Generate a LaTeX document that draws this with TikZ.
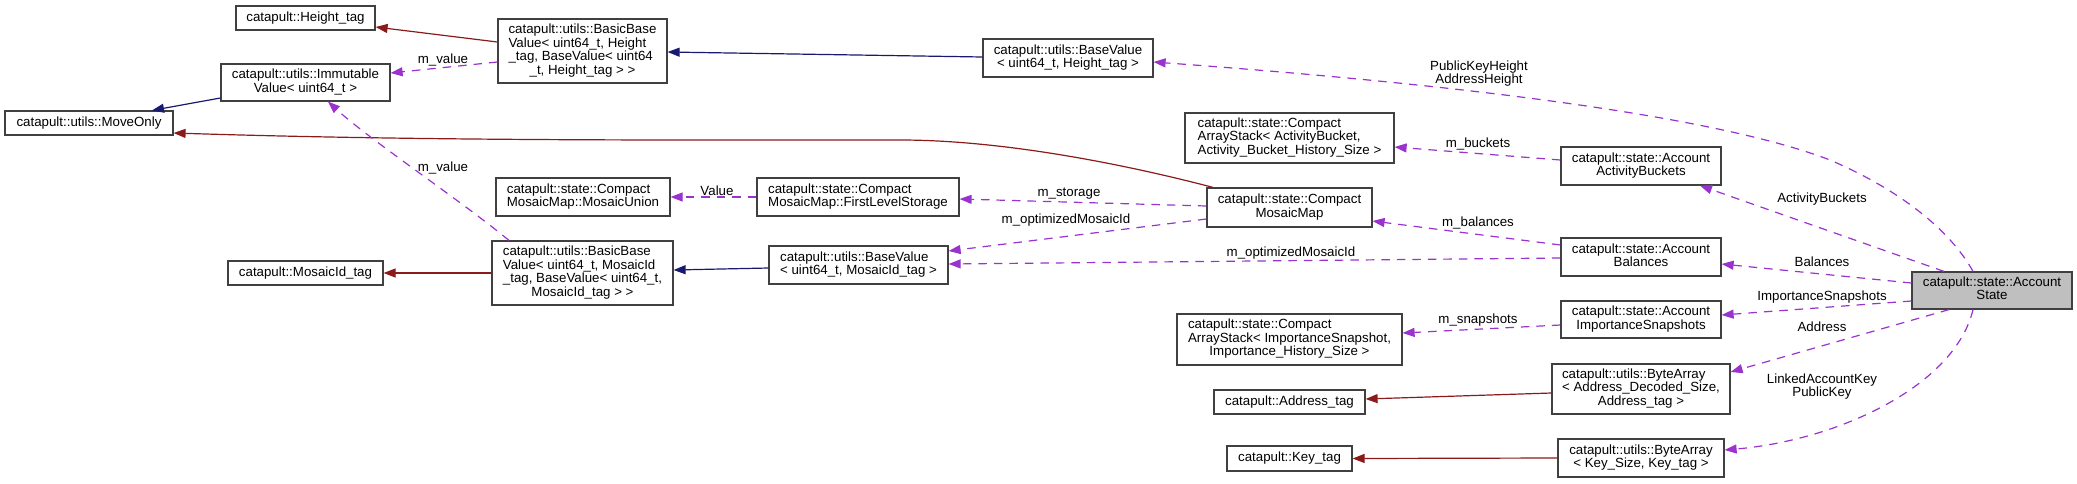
\documentclass[tikz,border=0pt]{standalone}
\usepackage{fontspec}
\setmainfont{Liberation Sans}
\usetikzlibrary{arrows.meta}
\definecolor{navy}{HTML}{191970}
\definecolor{dred}{HTML}{8B1A1A}
\definecolor{purp}{HTML}{9A32CD}
\newcommand{\boxlines}[1]{\begin{tabular}{@{}l@{}}#1\end{tabular}}
\newcommand{\lastline}[1]{\multicolumn{1}{@{}c@{}}{#1}}
\begin{document}
\begin{tikzpicture}[x=1pt,y=-1pt,
  every node/.style={font=\fontsize{13.3}{13}\selectfont, inner sep=0pt},
  cls/.style={draw=black!75, line width=1.2pt, fill=white},
  lbl/.style={align=center, text=black},
  tip/.style={-{Triangle[length=12pt,width=9pt]}},
  inh/.style={draw=navy, line width=1.2pt, tip},
  use/.style={draw=dred, line width=1.2pt, tip},
  mem/.style={draw=purp, line width=1.2pt, dash pattern=on 8.5pt off 7pt, tip}]
\useasboundingbox (0,0) rectangle (2077,483);

% classes
\node[cls, minimum width=139, minimum height=24] (heighttag) at (305.5,18) {catapult::Height\_tag};
\node[cls, minimum width=169, minimum height=64] (bbh) at (582.5,51) {\boxlines{catapult::utils::BasicBase\\Value< uint64\_t, Height\\\_tag, BaseValue< uint64\\\lastline{\_t, Height\_tag > >}}};
\node[cls, minimum width=169, minimum height=37] (imm) at (305.5,82.5) {\boxlines{catapult::utils::Immutable\\\lastline{Value< uint64\_t >}}};
\node[cls, minimum width=168, minimum height=24] (moveonly) at (89,123) {catapult::utils::MoveOnly};
\node[cls, minimum width=174, minimum height=38] (munion) at (583,197) {\boxlines{catapult::state::Compact\\\lastline{MosaicMap::MosaicUnion}}};
\node[cls, minimum width=155, minimum height=24] (midtag) at (305.5,273) {catapult::MosaicId\_tag};
\node[cls, minimum width=181, minimum height=64] (bbm) at (582.5,273) {\boxlines{catapult::utils::BasicBase\\Value< uint64\_t, MosaicId\\\_tag, BaseValue< uint64\_t,\\\lastline{MosaicId\_tag > >}}};
\node[cls, minimum width=170, minimum height=38] (bvh) at (1068,58) {\boxlines{catapult::utils::BaseValue\\\lastline{< uint64\_t, Height\_tag >}}};
\node[cls, minimum width=209, minimum height=50] (casact) at (1289.5,138) {\boxlines{catapult::state::Compact\\ArrayStack< ActivityBucket,\\\lastline{Activity\_Bucket\_History\_Size >}}};
\node[cls, minimum width=202, minimum height=38] (fls) at (858,197) {\boxlines{catapult::state::Compact\\\lastline{MosaicMap::FirstLevelStorage}}};
\node[cls, minimum width=165, minimum height=39] (cmm) at (1289.5,207.5) {\boxlines{catapult::state::Compact\\\lastline{MosaicMap}}};
\node[cls, minimum width=179, minimum height=38] (bvm) at (858.5,265) {\boxlines{catapult::utils::BaseValue\\\lastline{< uint64\_t, MosaicId\_tag >}}};
\node[cls, minimum width=225, minimum height=51] (casimp) at (1289.5,339.5) {\boxlines{catapult::state::Compact\\ArrayStack< ImportanceSnapshot,\\\lastline{Importance\_History\_Size >}}};
\node[cls, minimum width=151, minimum height=24] (addrtag) at (1289.5,402) {catapult::Address\_tag};
\node[cls, minimum width=125, minimum height=25] (keytag) at (1289.5,458.5) {catapult::Key\_tag};
\node[cls, minimum width=160, minimum height=38] (aab) at (1641,166) {\boxlines{catapult::state::Account\\\lastline{ActivityBuckets}}};
\node[cls, minimum width=160, minimum height=38] (bal) at (1641,257) {\boxlines{catapult::state::Account\\\lastline{Balances}}};
\node[cls, minimum width=160, minimum height=37] (imps) at (1641,319.5) {\boxlines{catapult::state::Account\\\lastline{ImportanceSnapshots}}};
\node[cls, minimum width=178, minimum height=50] (baaddr) at (1641,389) {\boxlines{catapult::utils::ByteArray\\< Address\_Decoded\_Size,\\\lastline{Address\_tag >}}};
\node[cls, minimum width=166, minimum height=38] (bakey) at (1641,458) {\boxlines{catapult::utils::ByteArray\\\lastline{< Key\_Size, Key\_tag >}}};
\node[cls, fill=gray!50, minimum width=160, minimum height=37] (as) at (1992,290.5) {\boxlines{catapult::state::Account\\\lastline{State}}};

% connectors
\draw[use] ([yshift=9pt]bbh.west) -- ([yshift=-9pt]heighttag.east);
\draw[inh] ([yshift=1pt]bvh.west) -- ([yshift=-1pt]bbh.east);
\draw[mem] ([yshift=-11pt]bbh.west) -- ([yshift=9.5pt]imm.east);
\draw[inh] ([yshift=-15.5pt]imm.west) -- ([xshift=63pt]moveonly.north);
\draw[use] ([xshift=-76.5pt]cmm.north) .. controls (1120,163) and (1000,140) .. (900,140) -- (700,140) .. controls (450,140) and (300,137) .. ([yshift=-10pt]moveonly.east);
\draw[mem] ([xshift=-73.5pt]bbm.north) .. controls (460,200) and (370,140) .. ([xshift=22.5pt]imm.south);
\draw[use] (bbm.west) -- (midtag.east);
\draw[inh] ([yshift=-3pt]bvm.west) -- ([yshift=3pt]bbm.east);
\draw[mem] (fls.west) -- (munion.east);
\draw[mem] ([yshift=1.5pt]cmm.west) -- ([yshift=-2pt]fls.east);
\draw[mem] ([yshift=-11.5pt]cmm.west) -- ([yshift=14pt]bvm.east);
\draw[mem] ([yshift=-1pt]bal.west) -- ([yshift=1pt]bvm.east);
\draw[mem] ([yshift=12pt]bal.west) -- ([yshift=-13.5pt]cmm.east);
\draw[mem] ([yshift=6pt]aab.west) -- ([yshift=-9pt]casact.east);
\draw[mem] ([xshift=-19pt]as.north) .. controls (1950,230) and (1900,190) .. (1830,160) .. controls (1700,110) and (1400,80) .. ([yshift=-4pt]bvh.east);
\draw[mem] ([xshift=-48pt]as.north) -- ([xshift=59pt]aab.south);
\draw[mem] ([yshift=7.5pt]as.west) -- ([yshift=-7pt]bal.east);
\draw[mem] ([yshift=-10.5pt]as.west) -- ([yshift=4.5pt]imps.east);
\draw[mem] ([yshift=-5.5pt]imps.west) -- ([yshift=6.5pt]casimp.east);
\draw[mem] ([xshift=-43pt]as.south) -- ([yshift=17pt]baaddr.east);
\draw[mem] ([xshift=-19pt]as.south) .. controls (1955,385) and (1840,440) .. ([yshift=8pt]bakey.east);
\draw[use] ([yshift=-4pt]baaddr.west) -- ([yshift=3pt]addrtag.east);
\draw[use] (bakey.west) -- (keytag.east);

% labels
\node[lbl] (l1) at (443,60) {m\_value};
\node[lbl] (l2) at (443,168) {m\_value};
\node[lbl] (l3) at (717,191) {Value};
\node[lbl] (l4) at (1069,194) {m\_storage};
\node[lbl] (l5) at (1066,220) {m\_optimizedMosaicId};
\node[lbl] (l6) at (1291,253) {m\_optimizedMosaicId};
\node[lbl] (l7) at (1478,223) {m\_balances};
\node[lbl] (l8) at (1478,144) {m\_buckets};
\node[lbl] (l9) at (1479,73.5) {PublicKeyHeight\\AddressHeight};
\node[lbl] (l10) at (1822,199) {ActivityBuckets};
\node[lbl] (l11) at (1822,262) {Balances};
\node[lbl] (l12) at (1822,297) {ImportanceSnapshots};
\node[lbl] (l13) at (1478,320) {m\_snapshots};
\node[lbl] (l14) at (1822,327) {Address};
\node[lbl] (l15) at (1822,386.5) {LinkedAccountKey\\PublicKey};
\end{tikzpicture}
\end{document}
